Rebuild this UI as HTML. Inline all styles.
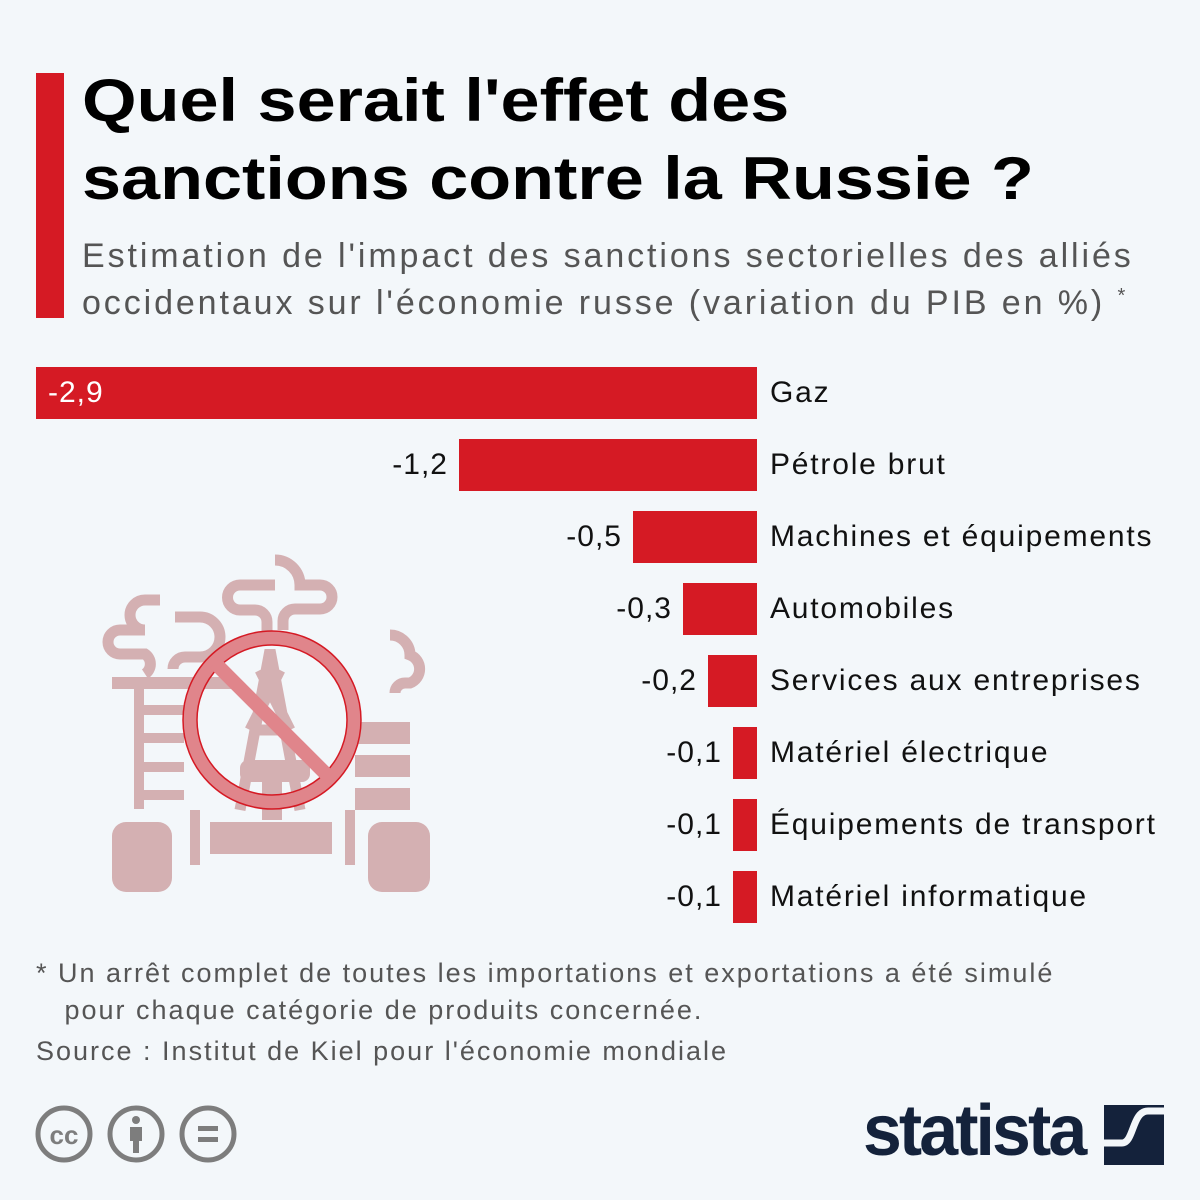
<!DOCTYPE html>
<html><head><meta charset="utf-8"><style>
body{margin:0;width:1200px;height:1200px;background:#f3f7fa;font-family:"Liberation Sans","DejaVu Sans",sans-serif;position:relative;overflow:hidden}
.a{position:absolute;white-space:nowrap}
.t{left:82px;font-weight:bold;font-size:60px;color:#000;line-height:78px;top:62px;transform:scaleX(1.17);transform-origin:left}
.s{left:82px;font-size:34px;color:#555;line-height:47px;top:233px;letter-spacing:2.9px}
.bar{position:absolute;background:#d51a24;height:52px}
.lab{position:absolute;left:770px;font-size:30px;color:#111;line-height:52px;letter-spacing:1.8px}
.val{position:absolute;font-size:30px;color:#111;line-height:52px;text-align:right;letter-spacing:1px}
.f{font-size:27px;color:#555;line-height:37px;letter-spacing:2px}
</style></head><body>
<div class="a" style="left:36px;top:73px;width:28px;height:245px;background:#d51a24"></div>
<div class="a t">Quel serait l'effet des<br>sanctions contre la Russie ?</div>
<div class="a s">Estimation de l'impact des sanctions sectorielles des alliés<br>occidentaux sur l'économie russe (variation du PIB en %) <span style="font-size:20px;line-height:0;vertical-align:12px">*</span></div>

<svg class="a" style="left:90px;top:550px" width="360" height="350" viewBox="0 0 360 350">
<g fill="#d4b0b2">
<rect x="22" y="127" width="120" height="12"/>
<rect x="44" y="139" width="10" height="120"/><rect x="44" y="155" width="50" height="10"/><rect x="44" y="183" width="50" height="10"/><rect x="44" y="212" width="50" height="10"/><rect x="44" y="240" width="50" height="10"/>
<rect x="265" y="172" width="55" height="22"/><rect x="265" y="205" width="55" height="22"/><rect x="265" y="238" width="55" height="22"/>
<rect x="22" y="272" width="60" height="70" rx="14"/><rect x="120" y="272" width="122" height="32"/><rect x="278" y="272" width="62" height="70" rx="14"/>
<rect x="100" y="260" width="10" height="55"/><rect x="255" y="260" width="10" height="55"/>
<rect x="150" y="210" width="70" height="22" rx="8"/><rect x="172" y="230" width="20" height="40"/>
</g>
<g fill="none" stroke="#d4b0b2" stroke-width="11">
<path d="M70 50 H55 a12 12 0 0 0 0 30 H30 a12 12 0 0 0 0 24 H55 a12 12 0 0 1 0 20"/>
<path d="M85 67 H110 a20 20 0 0 1 0 40 H95 a12 12 0 0 0 -12 12"/>
<path d="M185 35 H150 a12 12 0 0 0 0 25 H165 a12 12 0 0 1 12 12 V82"/>
<path d="M185 10 a25 25 0 0 1 25 25 H230 a12 12 0 0 1 0 24 H205 a12 12 0 0 0 -12 12 V80"/>
<path d="M300 85 a20 20 0 0 1 20 20 a15 15 0 0 1 0 28 H315 a10 10 0 0 0 -10 10"/>
<path d="M150 260 L180 100 L210 260 M160 180 H200 M170 120 L200 180 M190 120 L160 180"/>
</g>
<circle cx="182" cy="170" r="82" fill="none" stroke="#e0858b" stroke-width="14"/>
<circle cx="182" cy="170" r="89" fill="none" stroke="#d51a24" stroke-width="1.5"/>
<circle cx="182" cy="170" r="75" fill="none" stroke="#d51a24" stroke-width="1.5"/>
<line x1="125" y1="113" x2="239" y2="227" stroke="#e0858b" stroke-width="14"/>
</svg>

<div class="bar" style="left:36px;top:367px;width:721px"></div><div class="val" style="left:48px;top:367px;color:#fff">-2,9</div><div class="lab" style="top:367px">Gaz</div>
<div class="bar" style="left:459px;top:439px;width:298px"></div><div class="val" style="right:752px;top:439px">-1,2</div><div class="lab" style="top:439px">Pétrole brut</div>
<div class="bar" style="left:633px;top:511px;width:124px"></div><div class="val" style="right:578px;top:511px">-0,5</div><div class="lab" style="top:511px">Machines et équipements</div>
<div class="bar" style="left:683px;top:583px;width:74px"></div><div class="val" style="right:528px;top:583px">-0,3</div><div class="lab" style="top:583px">Automobiles</div>
<div class="bar" style="left:708px;top:655px;width:49px"></div><div class="val" style="right:503px;top:655px">-0,2</div><div class="lab" style="top:655px">Services aux entreprises</div>
<div class="bar" style="left:733px;top:727px;width:24px"></div><div class="val" style="right:478px;top:727px">-0,1</div><div class="lab" style="top:727px">Matériel électrique</div>
<div class="bar" style="left:733px;top:799px;width:24px"></div><div class="val" style="right:478px;top:799px">-0,1</div><div class="lab" style="top:799px">Équipements de transport</div>
<div class="bar" style="left:733px;top:871px;width:24px"></div><div class="val" style="right:478px;top:871px">-0,1</div><div class="lab" style="top:871px">Matériel informatique</div>

<div class="a f" style="left:36px;top:955px">* Un arrêt complet de toutes les importations et exportations a été simulé<br>&nbsp;&nbsp;&nbsp;pour chaque catégorie de produits concernée.</div>
<div class="a f" style="left:36px;top:1033px">Source : Institut de Kiel pour l'économie mondiale</div>

<svg class="a" style="left:34px;top:1104px" width="210" height="62">
<g fill="none" stroke="#7d7d7d" stroke-width="5"><circle cx="30" cy="30" r="26"/><circle cx="102" cy="30" r="26"/><circle cx="174" cy="30" r="26"/></g>
<text x="30" y="40" font-size="26" font-weight="bold" fill="#7d7d7d" text-anchor="middle" font-family="Liberation Sans">cc</text>
<g fill="#7d7d7d"><circle cx="102" cy="16" r="4"/><rect x="96" y="23" width="12" height="14"/><rect x="99" y="35" width="6" height="14"/><rect x="164" y="22" width="20" height="5"/><rect x="164" y="33" width="20" height="5"/></g>
</svg>
<div class="a" style="left:863px;top:1090px;font-size:72px;font-weight:bold;color:#14223b;letter-spacing:-3px;transform:scaleX(0.97);transform-origin:left">statista</div>
<svg class="a" style="left:1104px;top:1105px" width="60" height="60"><rect width="60" height="60" fill="#14223b"/><path d="M0 38 H18 C30 38 28 6 44 6 H60" fill="none" stroke="#f3f7fa" stroke-width="7"/></svg>
</body></html>
